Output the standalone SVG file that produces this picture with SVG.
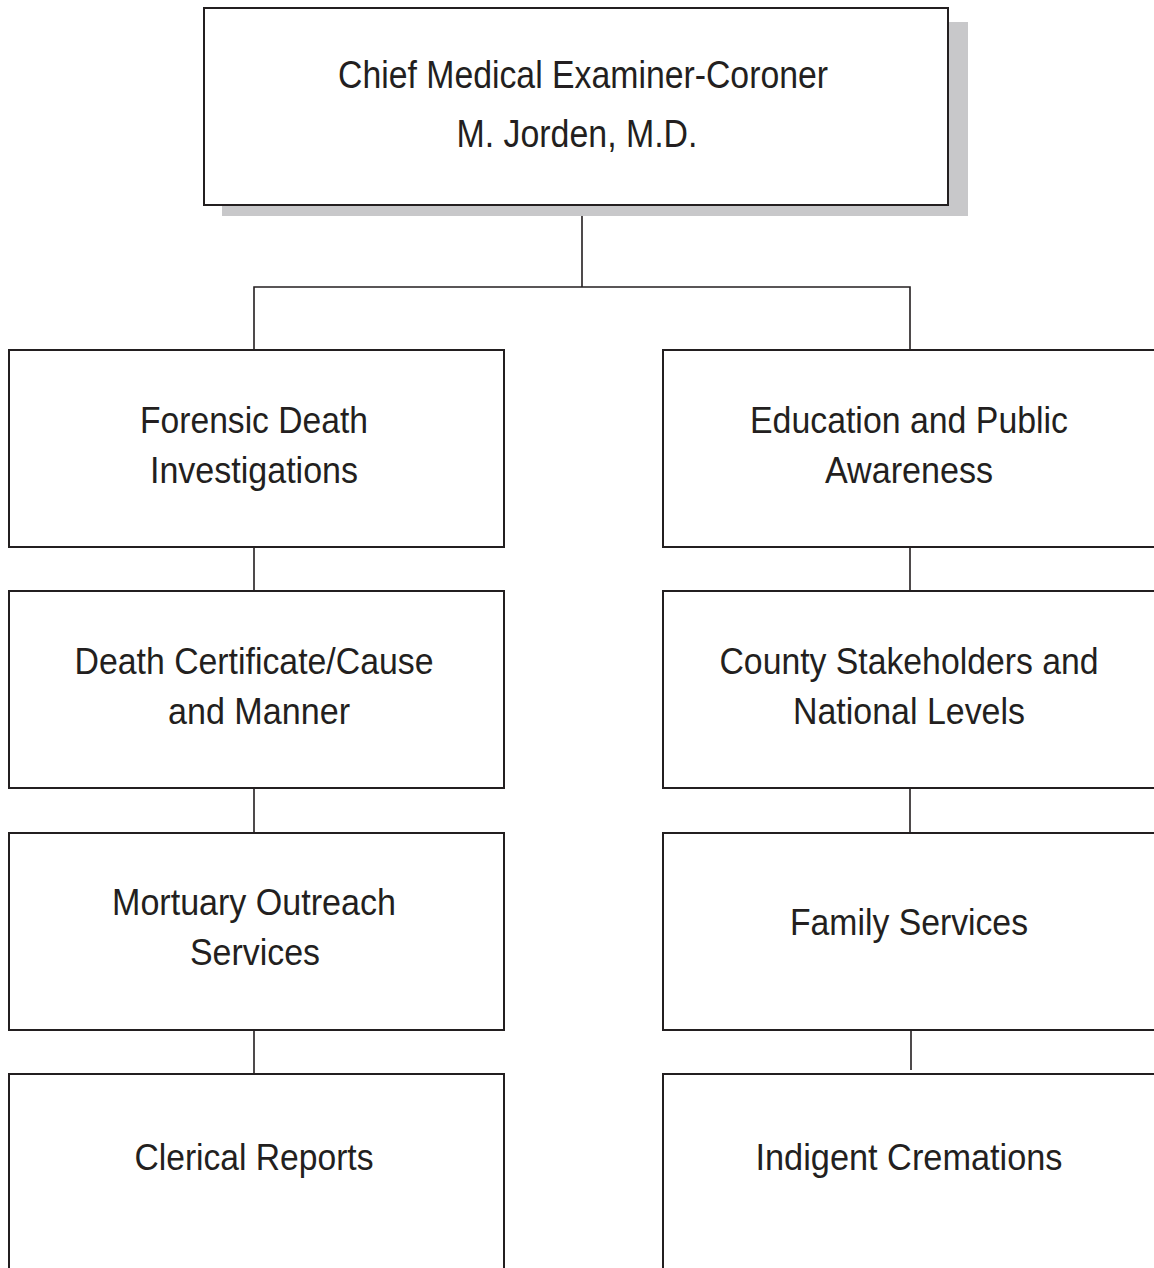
<svg xmlns="http://www.w3.org/2000/svg" width="1154" height="1268" viewBox="0 0 1154 1268">
  <style>
    .box { fill: #ffffff; stroke: #231f20; stroke-width: 2; }
    .shadow { fill: #c8c8ca; }
    .link { fill: none; stroke: #231f20; stroke-width: 1.6; }
    text { font-family: "Liberation Sans", Arial, sans-serif; font-size: 36px; fill: #231f20; text-anchor: middle; }
    .title { font-size: 39px; }
  </style>
  <rect width="1154" height="1268" fill="#ffffff"/>

  <g id="connectors">
    <path class="link" d="M582 205 V287 M254 350 V287 H910 V350"/>
    <path class="link" d="M254 547 V591 M254 788 V833 M254 1030 V1074"/>
    <path class="link" d="M910 547 V591 M910 788 V833 M911 1030 V1070"/>
  </g>

  <g id="chief">
    <rect class="shadow" x="222" y="22" width="746" height="194"/>
    <rect class="box" x="204" y="8" width="744" height="197"/>
    <text class="title" x="583" y="88" textLength="490" lengthAdjust="spacingAndGlyphs">Chief Medical Examiner-Coroner</text>
    <text class="title" x="577" y="147" textLength="241" lengthAdjust="spacingAndGlyphs">M. Jorden, M.D.</text>
  </g>

  <g id="forensic">
    <rect class="box" x="9" y="350" width="495" height="197"/>
    <text x="254" y="433" textLength="228" lengthAdjust="spacingAndGlyphs">Forensic Death</text>
    <text x="254" y="483" textLength="208" lengthAdjust="spacingAndGlyphs">Investigations</text>
  </g>

  <g id="death-certificate">
    <rect class="box" x="9" y="591" width="495" height="197"/>
    <text x="254" y="674" textLength="359" lengthAdjust="spacingAndGlyphs">Death Certificate/Cause</text>
    <text x="259" y="724" textLength="182" lengthAdjust="spacingAndGlyphs">and Manner</text>
  </g>

  <g id="mortuary">
    <rect class="box" x="9" y="833" width="495" height="197"/>
    <text x="254" y="915" textLength="284" lengthAdjust="spacingAndGlyphs">Mortuary Outreach</text>
    <text x="255" y="965" textLength="130" lengthAdjust="spacingAndGlyphs">Services</text>
  </g>

  <g id="clerical">
    <rect class="box" x="9" y="1074" width="495" height="210"/>
    <text x="254" y="1170" textLength="239" lengthAdjust="spacingAndGlyphs">Clerical Reports</text>
  </g>

  <g id="education">
    <rect class="box" x="663" y="350" width="493" height="197"/>
    <text x="909" y="433" textLength="318" lengthAdjust="spacingAndGlyphs">Education and Public</text>
    <text x="909" y="483" textLength="168" lengthAdjust="spacingAndGlyphs">Awareness</text>
  </g>

  <g id="stakeholders">
    <rect class="box" x="663" y="591" width="493" height="197"/>
    <text x="909" y="674" textLength="379" lengthAdjust="spacingAndGlyphs">County Stakeholders and</text>
    <text x="909" y="724" textLength="232" lengthAdjust="spacingAndGlyphs">National Levels</text>
  </g>

  <g id="family">
    <rect class="box" x="663" y="833" width="493" height="197"/>
    <text x="909" y="935" textLength="238" lengthAdjust="spacingAndGlyphs">Family Services</text>
  </g>

  <g id="indigent">
    <rect class="box" x="663" y="1074" width="493" height="210"/>
    <text x="909" y="1170" textLength="307" lengthAdjust="spacingAndGlyphs">Indigent Cremations</text>
  </g>
</svg>
